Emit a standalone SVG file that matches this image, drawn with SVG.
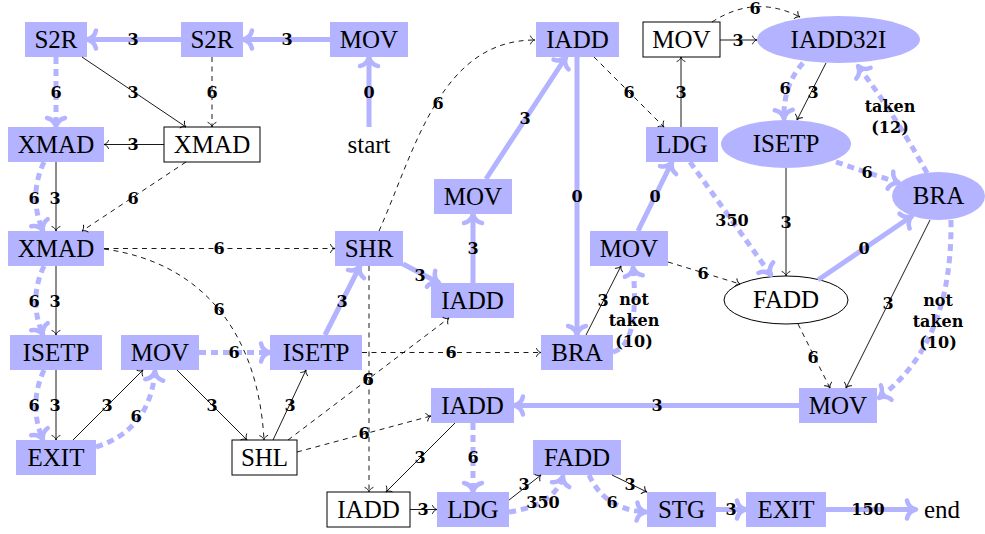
<svg xmlns="http://www.w3.org/2000/svg" width="985" height="534" viewBox="0 0 985 534">
<defs>
<style>
.f{fill:#b3b3ff}
.w{fill:#fff;stroke:#000;stroke-width:1}
.t{font-family:"Liberation Serif",serif;font-size:25px;text-anchor:middle;fill:#000}
.l{font-family:"DejaVu Serif",serif;font-weight:bold;font-size:16px;text-anchor:middle;fill:#000}
.k{fill:none;stroke:#b3b3ff;stroke-width:5;marker-end:url(#b)}
.kd{stroke-dasharray:7 5}
.s{fill:none;stroke:#000;stroke-width:0.9;marker-end:url(#a)}
.sd{stroke-dasharray:5 4.5}
</style>
<marker id="a" markerUnits="userSpaceOnUse" orient="auto" overflow="visible" refX="0" refY="0" markerWidth="1" markerHeight="1">
<path d="M-4.5,-4 C-3.5,-1.6 -1.6,-0.3 0,0 C-1.6,0.3 -3.5,1.6 -4.5,4" fill="none" stroke="#000" stroke-width="0.9" stroke-linecap="round"/>
</marker>
<marker id="b" markerUnits="userSpaceOnUse" orient="auto" overflow="visible" refX="0" refY="0" markerWidth="1" markerHeight="1">
<path d="M-9,-9 C-8,-4 -4,-1 0,0 C-4,1 -8,4 -9,9" fill="none" stroke="#b3b3ff" stroke-width="4.5" stroke-linecap="round" stroke-linejoin="round"/>
</marker>
</defs>
<rect width="985" height="534" fill="#fff"/>

<g id="n1"><rect class="f" x="25" y="22" width="62" height="35"/><text class="t" x="56" y="47.7">S2R</text></g>
<g id="n2"><rect class="f" x="181" y="22" width="62" height="35"/><text class="t" x="212" y="47.7">S2R</text></g>
<g id="n3"><rect class="f" x="330" y="22" width="78" height="35"/><text class="t" x="369" y="47.7">MOV</text></g>
<g id="start"><text class="t" x="369" y="153">start</text></g>
<g id="n4"><rect class="f" x="8" y="127" width="96" height="35"/><text class="t" x="56" y="152.7">XMAD</text></g>
<g id="n5"><rect class="w" x="164" y="127" width="96" height="35"/><text class="t" x="212" y="152.7">XMAD</text></g>
<g id="n6"><rect class="f" x="8" y="231" width="96" height="35"/><text class="t" x="56" y="256.7">XMAD</text></g>
<g id="n7"><rect class="f" x="335" y="231" width="68" height="35"/><text class="t" x="369" y="256.7">SHR</text></g>
<g id="n8"><rect class="f" x="536" y="22" width="83" height="35"/><text class="t" x="577.5" y="47.7">IADD</text></g>
<g id="n9"><rect class="w" x="643" y="22" width="77" height="35"/><text class="t" x="681.5" y="47.7">MOV</text></g>
<g id="n10"><ellipse class="f" cx="838.5" cy="39.5" rx="81.5" ry="23.5"/><text class="t" x="838.5" y="47.7">IADD32I</text></g>
<g id="n11"><rect class="f" x="646" y="127" width="72" height="35"/><text class="t" x="682" y="152.7">LDG</text></g>
<g id="n12"><ellipse class="f" cx="786" cy="144" rx="65" ry="24"/><text class="t" x="786" y="152.2">ISETP</text></g>
<g id="n13"><rect class="f" x="434" y="179" width="78" height="35"/><text class="t" x="473" y="204.7">MOV</text></g>
<g id="n14"><ellipse class="f" cx="938.5" cy="196" rx="46.5" ry="24"/><text class="t" x="938.5" y="204.2">BRA</text></g>
<g id="n15"><rect class="f" x="590" y="231" width="78" height="35"/><text class="t" x="629" y="256.7">MOV</text></g>
<g id="n16"><rect class="f" x="431" y="283" width="83" height="35"/><text class="t" x="472.5" y="308.7">IADD</text></g>
<g id="n17"><ellipse class="w" cx="786" cy="300" rx="62" ry="24"/><text class="t" x="786" y="308.2">FADD</text></g>
<g id="n18"><rect class="f" x="10" y="335" width="92" height="35"/><text class="t" x="56" y="360.7">ISETP</text></g>
<g id="n19"><rect class="f" x="121" y="335" width="78" height="35"/><text class="t" x="160" y="360.7">MOV</text></g>
<g id="n20"><rect class="f" x="270" y="335" width="92" height="35"/><text class="t" x="316" y="360.7">ISETP</text></g>
<g id="n21"><rect class="f" x="541" y="335" width="72" height="35"/><text class="t" x="577" y="360.7">BRA</text></g>
<g id="n22"><rect class="f" x="431" y="388" width="83" height="35"/><text class="t" x="472.5" y="413.7">IADD</text></g>
<g id="n23"><rect class="f" x="799" y="388" width="78" height="35"/><text class="t" x="838" y="413.7">MOV</text></g>
<g id="n24"><rect class="f" x="16" y="440" width="80" height="35"/><text class="t" x="56" y="465.7">EXIT</text></g>
<g id="n25"><rect class="w" x="232" y="440" width="65" height="35"/><text class="t" x="264.5" y="465.7">SHL</text></g>
<g id="n26"><rect class="f" x="533" y="440" width="88" height="35"/><text class="t" x="577" y="465.7">FADD</text></g>
<g id="n27"><rect class="w" x="327" y="492" width="83" height="35"/><text class="t" x="368.5" y="517.7">IADD</text></g>
<g id="n28"><rect class="f" x="437" y="492" width="72" height="35"/><text class="t" x="473" y="517.7">LDG</text></g>
<g id="n29"><rect class="f" x="647" y="492" width="69" height="35"/><text class="t" x="681.5" y="517.7">STG</text></g>
<g id="n30"><rect class="f" x="746" y="492" width="80" height="35"/><text class="t" x="786" y="517.7">EXIT</text></g>
<g id="end"><text class="t" x="942" y="518">end</text></g>

<g id="connectors">
<!-- thick solid -->
<path class="k" d="M330,39.5 L243,39.5"/><text class="l" x="287" y="45.3">3</text>
<path class="k" d="M181,39.5 L87,39.5"/><text class="l" x="133" y="45.3">3</text>
<path class="k" d="M369,127 L369,57"/><text class="l" x="369" y="97.8">0</text>
<path class="k" d="M325,335 L360,266"/><text class="l" x="342" y="307">3</text>
<path class="k" d="M403,264 L439,283"/><text class="l" x="420" y="281">3</text>
<path class="k" d="M473,283 L473,214"/><text class="l" x="473" y="254">3</text>
<path class="k" d="M486,179 L566,57"/><text class="l" x="525" y="124">3</text>
<path class="k" d="M577,57 L577,335"/><text class="l" x="577" y="202">0</text>
<path class="k" d="M638,231 L672,162"/><text class="l" x="655" y="202">0</text>
<path class="k" d="M818,280 L912,216"/><text class="l" x="864" y="254">0</text>
<path class="k" d="M799,405.5 L514,405.5"/><text class="l" x="657" y="411.3">3</text>
<path class="k" d="M716,509.5 L746,509.5"/><text class="l" x="731" y="515.3">3</text>
<path class="k" d="M826,509.5 L916,509.5"/><text class="l" x="868" y="515.3">150</text>
<!-- thick dashed -->
<path class="k kd" d="M56,57 L56,127"/><text class="l" x="56" y="97.8">6</text>
<path class="k kd" d="M44,162 Q28,196 43,231"/><text class="l" x="34" y="203.8">6</text>
<path class="k kd" d="M44,266 Q28,300 43,335"/><text class="l" x="34" y="306.8">6</text>
<path class="k kd" d="M44,370 Q28,405 43,440"/><text class="l" x="34" y="410.8">6</text>
<path class="k kd" d="M96,447 Q150,430 155,371"/><text class="l" x="136" y="422">6</text>
<path class="k kd" d="M199,352.5 L270,352.5"/><text class="l" x="234" y="358.3">6</text>
<path class="k kd" d="M613,352 Q640,345 633,267"/>
<text class="l" x="634" y="305">not</text><text class="l" x="634" y="326">taken</text><text class="l" x="634" y="347">(10)</text>
<path class="k kd" d="M690,162 L771,275"/><text class="l" x="732" y="225.8">350</text>
<path class="k kd" d="M803,63 Q783,85 784,119"/><text class="l" x="785" y="93.8">6</text>
<path class="k kd" d="M836,162 L899,183"/><text class="l" x="867" y="177.8">6</text>
<path class="k kd" d="M927,173 Q895,115 858,66"/>
<text class="l" x="890" y="112">taken</text><text class="l" x="890" y="133">(12)</text>
<path class="k kd" d="M951,220 C952,300 930,360 879,398"/>
<text class="l" x="938" y="306">not</text><text class="l" x="938" y="327">taken</text><text class="l" x="938" y="348">(10)</text>
<path class="k kd" d="M473,423 L473,492"/><text class="l" x="473" y="462.8">6</text>
<path class="k kd" d="M509,512 Q555,505 563,476"/><text class="l" x="543" y="508">350</text>
<path class="k kd" d="M589,475 Q605,510 646,512"/><text class="l" x="612" y="508">6</text>
<!-- thin solid -->
<path class="s" d="M82,57 L186,127"/><text class="l" x="133" y="97.8">3</text>
<path class="s" d="M164,144.5 L104,144.5"/><text class="l" x="133" y="150.3">3</text>
<path class="s" d="M56,162 L56,231"/><text class="l" x="55" y="203.8">3</text>
<path class="s" d="M56,266 L56,335"/><text class="l" x="55" y="306.8">3</text>
<path class="s" d="M56,370 L56,440"/><text class="l" x="55" y="410.8">3</text>
<path class="s" d="M73,440 L143,370"/><text class="l" x="107" y="410.8">3</text>
<path class="s" d="M177,370 L247,440"/><text class="l" x="212" y="410.8">3</text>
<path class="s" d="M273,440 L306,370"/><text class="l" x="290" y="410.8">3</text>
<path class="s" d="M586,335 L621,266"/><text class="l" x="603" y="305.8">3</text>
<path class="s" d="M681,127 L681,57"/><text class="l" x="681" y="97.8">3</text>
<path class="s" d="M720,40 L757,40"/><text class="l" x="738" y="45.8">3</text>
<path class="s" d="M826,63 L797,120"/><text class="l" x="813" y="97.8">3</text>
<path class="s" d="M786,168 L786,276"/><text class="l" x="786" y="227.8">3</text>
<path class="s" d="M930,220 L846,388"/><text class="l" x="888" y="308.8">3</text>
<path class="s" d="M455,423 L386,492"/><text class="l" x="420" y="462.8">3</text>
<path class="s" d="M410,509.5 L437,509.5"/><text class="l" x="423" y="515.3">3</text>
<path class="s" d="M509,500 L541,475"/><text class="l" x="524" y="489.8">3</text>
<path class="s" d="M612,475 L647,492"/><text class="l" x="630" y="489.8">3</text>
<!-- thin dashed -->
<path class="s sd" d="M212,57 L212,127"/><text class="l" x="212" y="97.8">6</text>
<path class="s sd" d="M186,162 L82,231"/><text class="l" x="133" y="203.8">6</text>
<path class="s sd" d="M104,248.5 L335,248.5"/><text class="l" x="219" y="254.3">6</text>
<path class="s sd" d="M104,249 C200,262 258,330 264,440"/><text class="l" x="219" y="314.8">6</text>
<path class="s sd" d="M379,231 C415,150 440,40 535,40"/><text class="l" x="438" y="108.8">6</text>
<path class="s sd" d="M369,266 L369,492"/><text class="l" x="368" y="384.8">6</text>
<path class="s sd" d="M362,352.5 L541,352.5"/><text class="l" x="451" y="358.3">6</text>
<path class="s sd" d="M288,440 L449,318"/><text class="l" x="368" y="384.8">6</text>
<path class="s sd" d="M297,452 L431,416"/><text class="l" x="364" y="438.8">6</text>
<path class="s sd" d="M594,57 L664,127"/><text class="l" x="629" y="97.8">6</text>
<path class="s sd" d="M668,262 L740,284"/><text class="l" x="703" y="278.8">6</text>
<path class="s sd" d="M712,22 Q755,-6 800,17"/><text class="l" x="755" y="14">6</text>
<path class="s sd" d="M798,324 L830,388"/><text class="l" x="813" y="362.8">6</text>
</g>
</svg>
